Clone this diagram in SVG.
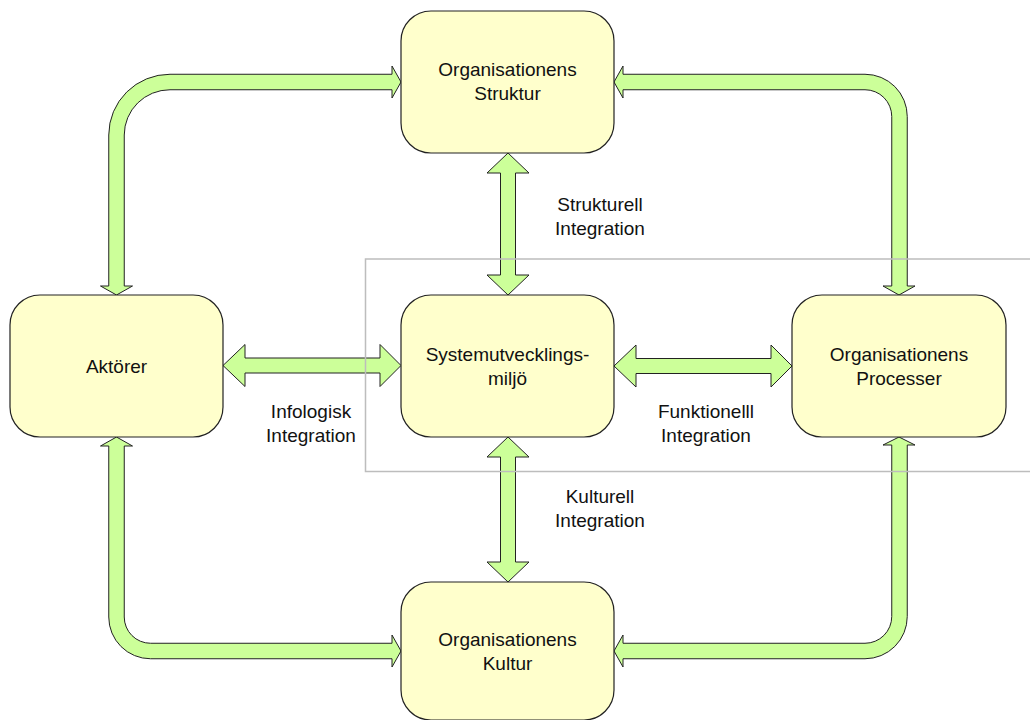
<svg xmlns="http://www.w3.org/2000/svg" width="1030" height="720" viewBox="0 0 1030 720">
  <style>
    .node rect { fill: #FFFFCC; stroke: #222222; stroke-width: 1.2; }
    .node text, .label { font-family: "Liberation Sans", Arial, sans-serif; font-size: 19px; fill: #111111; text-anchor: middle; }
    .arrow { fill: #CCFF99; stroke: #222222; stroke-width: 1; stroke-linejoin: miter; }
    .frame { fill: none; stroke: #BDBDBD; stroke-width: 1.5; }
  </style>

  <!-- connectors -->
  <g id="connectors">
    <!-- Aktörer <-> Struktur (elbow) -->
    <path class="arrow" d="M401,82 L392,66 L392,74.25 L170,74.25 A61.25,60.75 0 0 0 108.75,135 L108.75,286 L100.5,286 L116.5,295 L132.5,286 L124.25,286 L124.25,135 A45.75,45.25 0 0 1 170,89.75 L392,89.75 L392,98 Z"/>
    <!-- Struktur <-> Processer (elbow) -->
    <path class="arrow" d="M614,82 L623,66 L623,74.25 L865,74.25 A42.25,42.25 0 0 1 907.25,116.5 L907.25,286 L915,286 L899,295 L883,286 L891.75,286 L891.75,116.5 A26.75,26.75 0 0 0 865,89.75 L623,89.75 L623,98 Z"/>
    <!-- Aktörer <-> Kultur (elbow) -->
    <path class="arrow" d="M116.5,437 L132.5,446 L124.25,446 L124.25,617 A26.25,26.25 0 0 0 150.5,643.25 L392,643.25 L392,635 L401,651 L392,667 L392,658.75 L150.5,658.75 A41.75,41.75 0 0 1 108.75,617 L108.75,446 L100.5,446 Z"/>
    <!-- Processer <-> Kultur (elbow) -->
    <path class="arrow" d="M899,437 L915,445 L907.25,445 L907.25,616.5 A42.25,42.25 0 0 1 865,658.75 L623,658.75 L623,667 L614,651 L623,635 L623,643.25 L865,643.25 A26.75,26.75 0 0 0 891.75,616.5 L891.75,445 L883,445 Z"/>
    <!-- Struktur <-> Systemutvecklingsmiljö -->
    <path class="arrow" d="M508,153 L529,173 L515.5,173 L515.5,275 L529,275 L508,295 L487,275 L500.5,275 L500.5,173 L487,173 Z"/>
    <!-- Systemutvecklingsmiljö <-> Kultur -->
    <path class="arrow" d="M508,437 L529,457 L515.5,457 L515.5,562 L529,562 L508,582 L487,562 L500.5,562 L500.5,457 L487,457 Z"/>
    <!-- Aktörer <-> Systemutvecklingsmiljö -->
    <path class="arrow" d="M223,365.5 L245,344.5 L245,358 L380,358 L380,344.5 L401,365.5 L380,386.5 L380,373 L245,373 L245,386.5 Z"/>
    <!-- Systemutvecklingsmiljö <-> Processer -->
    <path class="arrow" d="M614,366 L636,345 L636,358.5 L771,358.5 L771,345 L792,366 L771,387 L771,373.5 L636,373.5 L636,387 Z"/>
  </g>

  <!-- boundary frame around the development environment -->
  <rect class="frame" x="365.5" y="259" width="700" height="212.5"/>

  <!-- connector labels -->
  <g id="labels">
    <text class="label" x="600" y="210.5">Strukturell</text>
    <text class="label" x="600" y="234.5">Integration</text>
    <text class="label" x="311" y="417.5">Infologisk</text>
    <text class="label" x="311" y="441.5">Integration</text>
    <text class="label" x="706" y="417.5">Funktionelll</text>
    <text class="label" x="706" y="441.5">Integration</text>
    <text class="label" x="600" y="502.5">Kulturell</text>
    <text class="label" x="600" y="526.5">Integration</text>
  </g>

  <!-- nodes -->
  <g id="struktur" class="node">
    <rect x="401" y="11" width="213" height="142" rx="30" ry="30"/>
    <text x="507.5" y="76">Organisationens</text>
    <text x="507.5" y="100">Struktur</text>
  </g>
  <g id="aktorer" class="node">
    <rect x="10" y="295" width="213" height="142" rx="30" ry="30"/>
    <text x="116.5" y="373">Aktörer</text>
  </g>
  <g id="systemutveckling" class="node">
    <rect x="401" y="295" width="213" height="142" rx="30" ry="30"/>
    <text x="507.5" y="361">Systemutvecklings-</text>
    <text x="507.5" y="385">miljö</text>
  </g>
  <g id="processer" class="node">
    <rect x="792" y="295" width="214" height="142" rx="30" ry="30"/>
    <text x="899" y="361">Organisationens</text>
    <text x="899" y="385">Processer</text>
  </g>
  <g id="kultur" class="node">
    <rect x="401" y="582" width="213" height="138" rx="30" ry="30"/>
    <text x="507.5" y="646">Organisationens</text>
    <text x="507.5" y="670">Kultur</text>
  </g>
</svg>
